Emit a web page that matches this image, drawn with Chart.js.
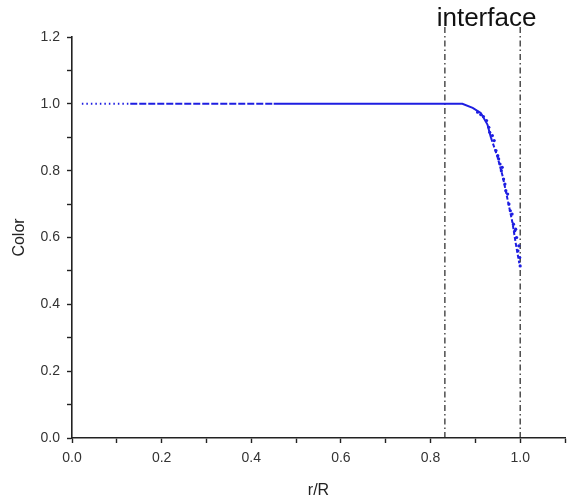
<!DOCTYPE html>
<html>
<head>
<meta charset="utf-8">
<script src="https://cdn.jsdelivr.net/npm/chart.js@4"></script>
<style>
  html, body { margin: 0; padding: 0; background: #fff; }
  #wrap { width: 569px; height: 500px; }
</style>
</head>
<body>
<div id="wrap"><canvas id="colorChart"></canvas></div>
<script>
// profile
const rValues = [0.022, 0.035, 0.05, 0.065, 0.08, 0.095, 0.11, 0.13, 0.16, 0.2, 0.3, 0.4, 0.45, 0.5, 0.6, 0.7, 0.8, 0.85,
                 0.871, 0.894, 0.912, 0.927, 0.935, 0.949, 0.961, 0.972, 0.983, 0.990, 0.998];
const colorValues = [1.0, 1.0, 1.0, 1.0, 1.0, 1.0, 1.0, 1.0, 1.0, 1.0, 1.0, 1.0, 1.0, 1.0, 1.0, 1.0, 1.0, 1.0,
                     1.0, 0.988, 0.973, 0.938, 0.898, 0.843, 0.783, 0.713, 0.643, 0.583, 0.523];

// scattered points along the steep part
const scatterR = [0.905, 0.912, 0.918, 0.925, 0.93, 0.932, 0.938, 0.942, 0.946, 0.95, 0.952, 0.955, 0.958, 0.96,
                  0.963, 0.966, 0.968, 0.972, 0.975, 0.978, 0.982, 0.985, 0.988, 0.99, 0.992, 0.995, 0.997, 0.999, 1.0];
const scatterColor = [0.975, 0.968, 0.962, 0.95, 0.93, 0.915, 0.905, 0.89, 0.86, 0.845, 0.835, 0.82, 0.80, 0.81,
                      0.775, 0.76, 0.74, 0.73, 0.70, 0.68, 0.67, 0.64, 0.62, 0.625, 0.60, 0.56, 0.575, 0.54, 0.515];

const interfaceR = [0.832, 1.0];
const xTicksMax = 1.1;
const yTicksMax = 1.2;

const blue = 'rgb(30, 30, 225)';
const fontFamily = '"Liberation Sans", Arial, sans-serif';

const curve = rValues.map((r, i) => ({ x: r, y: colorValues[i] }));
const scatter = scatterR.map((r, i) => ({ x: r, y: scatterColor[i] }));

const interfaceSets = interfaceR.map(r => ({
  data: [{ x: r, y: 0 }, { x: r, y: 1.23 }],
  borderColor: '#222',
  borderWidth: 1.2,
  borderDash: [6, 3, 1.5, 3],
  pointRadius: 0,
  showLine: true,
  clip: false
}));

// "interface" label above the two lines
const interfaceLabel = {
  id: 'interfaceLabel',
  afterDraw(chart) {
    const ctx = chart.ctx;
    const x = chart.scales.x.getPixelForValue((interfaceR[0] + interfaceR[1]) / 2);
    ctx.save();
    ctx.font = '26px ' + fontFamily;
    ctx.fillStyle = '#111';
    ctx.textAlign = 'center';
    ctx.textBaseline = 'middle';
    ctx.fillText('interface', x + 4, 19);
    ctx.restore();
  }
};

function tickLabel(v) {
  const n = Math.round(v * 10);
  return n % 2 === 0 ? (n / 10).toFixed(1) : '';
}

const ctx = document.getElementById('colorChart').getContext('2d');
const chart = new Chart(ctx, {
  type: 'scatter',
  data: {
    datasets: [{
      data: curve,
      borderColor: blue,
      borderWidth: 2,
      pointRadius: 0,
      showLine: true,
      segment: {
        borderDash: c => {
          if (c.p1.parsed.x <= 0.13) return [1.5, 3];
          if (c.p1.parsed.x <= 0.45) return [7, 2];
          if (c.p0.parsed.x >= 0.93) return [4, 2];
          return undefined;
        }
      }
    }, {
      data: scatter,
      backgroundColor: blue,
      borderColor: blue,
      pointRadius: 1.6,
      pointBorderWidth: 0,
      showLine: false
    }, ...interfaceSets]
  },
  options: {
    responsive: true,
    maintainAspectRatio: false,
    animation: false,
    layout: { padding: { top: 37, right: 3, left: 0, bottom: 0 } },
    plugins: {
      legend: { display: false },
      tooltip: { enabled: false }
    },
    scales: {
      x: {
        type: 'linear',
        min: 0,
        max: xTicksMax,
        afterFit: s => { s.height = 62; s.paddingLeft = 0; s.paddingRight = 0; },
        border: { color: '#222', width: 1.6 },
        grid: { drawOnChartArea: false, tickLength: 5, tickColor: '#222', tickWidth: 1.4 },
        ticks: {
          stepSize: 0.1,
          autoSkip: false,
          maxRotation: 0,
          color: '#333',
          font: { family: fontFamily, size: 14 },
          padding: 7,
          callback: tickLabel
        },
        title: {
          display: true,
          text: 'r/R',
          color: '#222',
          font: { family: fontFamily, size: 16 },
          padding: { top: 0, bottom: 0 }
        }
      },
      y: {
        min: 0,
        max: yTicksMax,
        afterFit: s => { s.width = 72; s.paddingTop = 0; s.paddingBottom = 0; },
        border: { color: '#222', width: 1.6 },
        grid: { drawOnChartArea: false, tickLength: 5, tickColor: '#222', tickWidth: 1.4 },
        ticks: {
          stepSize: 0.1,
          autoSkip: false,
          color: '#333',
          font: { family: fontFamily, size: 14 },
          padding: 7,
          callback: tickLabel
        },
        title: {
          display: true,
          text: 'Color',
          color: '#222',
          font: { family: fontFamily, size: 16 },
          padding: { top: 10, bottom: 0 }
        }
      }
    }
  },
  plugins: [interfaceLabel]
});
</script>
</body>
</html>
